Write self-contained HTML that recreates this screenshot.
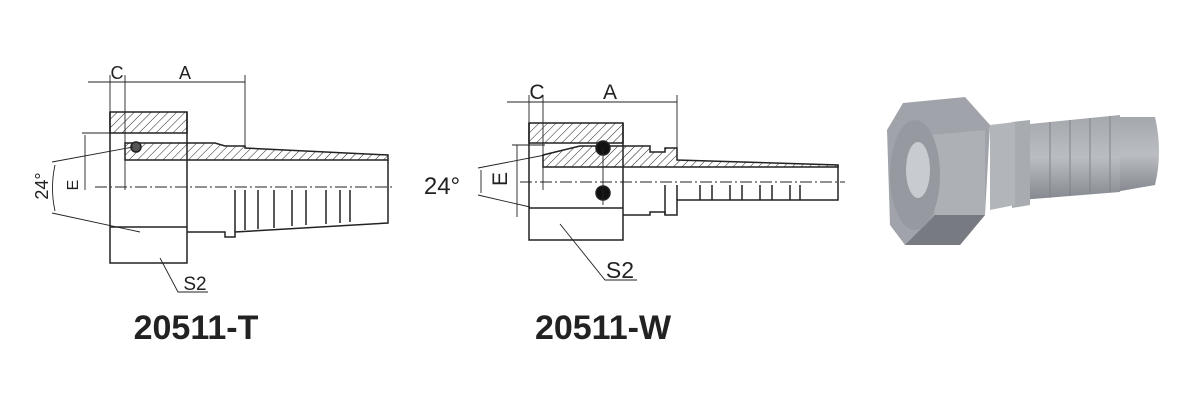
<!DOCTYPE html>
<html><head><meta charset="utf-8"><style>
html,body{margin:0;padding:0;background:#fff;width:1200px;height:400px;overflow:hidden}
svg{display:block}
text{font-family:"Liberation Sans",Arial,sans-serif;fill:#222}
</style></head><body>
<svg width="1200" height="400" viewBox="0 0 1200 400" xmlns="http://www.w3.org/2000/svg">
<defs>
<pattern id="h" width="6" height="6" patternUnits="userSpaceOnUse" patternTransform="rotate(45)">
<line x1="0" y1="0" x2="0" y2="6" stroke="#222" stroke-width="1"/></pattern>
<linearGradient id="g1" x1="0" y1="0" x2="0" y2="1"><stop offset="0" stop-color="#a4a8ad"/><stop offset="0.5" stop-color="#babdc2"/><stop offset="1" stop-color="#85898f"/></linearGradient>
</defs>
<g fill="none" stroke="#222" stroke-width="1.5">
<!-- Drawing 1 -->
<path d="M110,112 H187 V133 H110 Z" fill="url(#h)"/>
<path d="M125,160 V143 H215 L225,146 H245 V148 L388,155 V160 Z" fill="url(#h)"/>
<path d="M110,112 V263 H187 V112"/>
<path d="M110,227 H187"/>
<path d="M187,232 H225 V237 H235 V232 L388,223 V160"/>
<path d="M235,190 V232 M245,190 V230 M258,190 V229 M274,190 V228 M292,190 V226 M306,190 V225 M326,190 V224 M340,190 V223 M350,190 V222"/>
<circle cx="136" cy="147" r="5" fill="#555"/>
<line x1="110" y1="82" x2="245" y2="82" stroke-width="0.9"/>
<line x1="88" y1="82" x2="110" y2="82" stroke-width="0.9"/>
<line x1="110" y1="75" x2="110" y2="190" stroke-width="0.9"/>
<line x1="125" y1="75" x2="125" y2="190" stroke-width="0.9"/>
<line x1="245" y1="75" x2="245" y2="148" stroke-width="0.9"/>
<line x1="95" y1="187" x2="392" y2="187" stroke-width="0.9" stroke-dasharray="12,3,2,3"/>
<line x1="82" y1="133" x2="140" y2="133" stroke-width="0.9"/>
<line x1="85" y1="135" x2="85" y2="190" stroke-width="0.9"/>
<line x1="52" y1="162" x2="133" y2="147" stroke-width="0.9"/>
<line x1="52" y1="213" x2="140" y2="232" stroke-width="0.9"/>
<path d="M55,165 Q50,188 55,211" stroke-width="0.9"/>
<path d="M160,258 L178,292 H208" stroke-width="0.9"/>
<!-- Drawing 2 -->
<path d="M529,123 H623 V143 H529 Z" fill="url(#h)"/>
<path d="M543,167 V155 L580,146 H650 V152 H665 V148 H677 V160 L838,165 V167 Z" fill="url(#h)"/>
<path d="M529,123 V240 H623 V123"/>
<path d="M529,208 H623"/>
<path d="M623,215 H650 V212 H665 V215 H677 V200 L838,200 V165"/>
<path d="M665,185 V215 M677,185 V200 M700,185 V200 M712,185 V200 M730,185 V200 M742,185 V200 M760,185 V200 M772,185 V200 M790,185 V200 M800,185 V200"/>
<circle cx="603" cy="148" r="7" fill="#111"/>
<circle cx="603" cy="193" r="7" fill="#111"/>
<line x1="603" y1="148" x2="603" y2="205" stroke-width="0.9"/>
<line x1="507" y1="102" x2="677" y2="102" stroke-width="0.9"/>
<line x1="529" y1="95" x2="529" y2="190" stroke-width="0.9"/>
<line x1="543" y1="95" x2="543" y2="190" stroke-width="0.9"/>
<line x1="677" y1="95" x2="677" y2="148" stroke-width="0.9"/>
<line x1="520" y1="182" x2="845" y2="182" stroke-width="0.9" stroke-dasharray="12,3,2,3"/>
<line x1="512" y1="145" x2="545" y2="145" stroke-width="0.9"/>
<line x1="517" y1="145" x2="517" y2="217" stroke-width="0.9"/>
<line x1="478" y1="168" x2="545" y2="155" stroke-width="0.9"/>
<line x1="478" y1="195" x2="530" y2="207" stroke-width="0.9"/>
<path d="M481,170 V193" stroke-width="0.9"/>
<path d="M560,224 L605,280 H637" stroke-width="0.9"/>
</g>
<text x="117" y="79" font-size="18" text-anchor="middle">C</text>
<text x="185" y="79" font-size="18" text-anchor="middle">A</text>
<text x="52" y="190" font-size="18" text-anchor="middle" transform="rotate(-90 48 190)">24°</text>
<text x="81" y="188" font-size="16" text-anchor="middle" transform="rotate(-90 78 188)">E</text>
<text x="195" y="290" font-size="19" text-anchor="middle">S2</text>
<text x="196" y="339" font-size="34" font-weight="bold" text-anchor="middle" fill="#111">20511-T</text>
<text x="537" y="99" font-size="21" text-anchor="middle">C</text>
<text x="610" y="99" font-size="21" text-anchor="middle">A</text>
<text x="442" y="194" font-size="24" text-anchor="middle">24°</text>
<text x="509" y="181" font-size="21" text-anchor="middle" transform="rotate(-90 507 181)">E</text>
<text x="620" y="278" font-size="23" text-anchor="middle">S2</text>
<text x="603" y="339" font-size="34" font-weight="bold" text-anchor="middle" fill="#111">20511-W</text>
<!-- 3D fitting -->
<g>
<path d="M1115,117 L1155,117 Q1163,152 1155,185 L1115,192 Z" fill="url(#g1)"/>
<path d="M1020,125 L1120,115 L1120,192 L1020,200 Z" fill="url(#g1)"/>
<path d="M1012,122 L1030,120 L1030,205 L1012,208 Z" fill="#a8acb1"/>
<path d="M990,125 L1015,122 L1015,205 L990,210 Z" fill="#b2b6bb"/>
<path d="M903,103 L965,97 L990,125 L985,215 L960,245 L905,245 L890,225 L887,130 Z" fill="#a0a4aa"/>
<path d="M930,135 L985,130 L985,215 L935,215 Z" fill="#adb1b6"/>
<path d="M935,215 L985,215 L960,245 L905,245 Z" fill="#777b81"/>
<ellipse cx="915" cy="175" rx="25" ry="55" fill="#969aa0"/>
<ellipse cx="918" cy="170" rx="12" ry="28" fill="#c8cbcf"/>
<g stroke="#80848a" stroke-width="1" fill="none">
<line x1="1050" y1="122" x2="1050" y2="198"/><line x1="1070" y1="120" x2="1070" y2="196"/>
<line x1="1090" y1="118" x2="1090" y2="194"/><line x1="1110" y1="116" x2="1110" y2="192"/>
</g>
</g>
</svg>
</body></html>
